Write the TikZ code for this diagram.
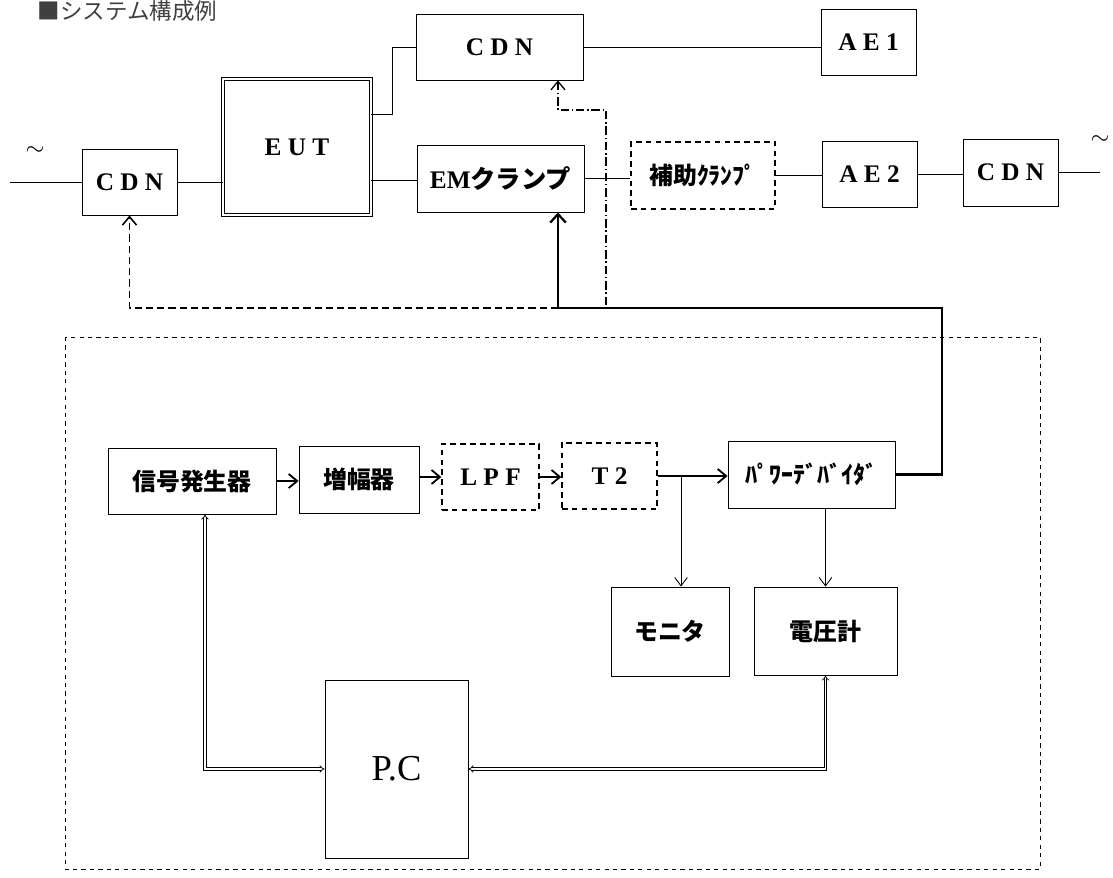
\documentclass[tikz,border=0pt]{standalone}
\usepackage{fontspec}
\setmainfont{Liberation Serif}
\newfontfamily\jp{Noto Sans CJK JP}
\usetikzlibrary{arrows.meta, positioning}

\begin{document}
\begin{tikzpicture}[x=0.025cm, y=-0.025cm,
  box/.style={draw, line width=0.6pt, inner sep=0pt, font=\bfseries\fontsize{18}{21}\selectfont},
  dbox/.style={box, dash pattern=on 4pt off 3pt, line width=0.9pt},
  jtext/.style={font=\jp\bfseries\fontsize{17}{20}\selectfont},
  wire/.style={line width=0.6pt},
  feed/.style={line width=1.6pt, -{Straight Barb[length=6pt,width=11pt]}},
  flow/.style={line width=1.3pt, -{Straight Barb[length=6pt,width=10pt]}},
  tap/.style={line width=0.6pt, -{Straight Barb[length=6pt,width=9pt]}},
  link/.style={double, double distance=1.3pt, line width=0.5pt, {Implies}-{Implies}}]
  \useasboundingbox (0,0) rectangle (1113,877);

  \node[anchor=west, font=\jp\fontsize{16}{18}\selectfont, text=black!75] (title) at (33,11) {■システム構成例};

  % upper row
  \node[font=\fontsize{19}{21}\selectfont] (tilL) at (35,151) {$\sim$};
  \node[font=\fontsize{19}{21}\selectfont] (tilR) at (1100,140) {$\sim$};
  \coordinate (inL) at (10,182);
  \coordinate (outR) at (1100,172.5);
  \node[box, minimum width=2.375cm, minimum height=1.65cm] (cdnL) at (129.5,182) {C D N};
  \node[box, double, double distance=2pt, minimum width=3.7cm, minimum height=3.4cm] (eut) at (297,147) {E U T};
  \node[box, minimum width=4.175cm, minimum height=1.65cm] (cdnT) at (499.5,47) {C D N};
  \node[box, minimum width=4.175cm, minimum height=1.675cm] (emc) at (500.5,178.5) {EM{\jp クランプ}};
  \node[box, minimum width=2.375cm, minimum height=1.65cm] (ae1) at (868.5,42) {A E 1};
  \node[dbox, jtext, minimum width=3.6cm, minimum height=1.675cm] (hojo) at (703,175.5) {補助ｸﾗﾝﾌﾟ};
  \node[box, minimum width=2.375cm, minimum height=1.65cm] (ae2) at (869.5,174) {A E 2};
  \node[box, minimum width=2.375cm, minimum height=1.675cm] (cdnR) at (1010.5,172.5) {C D N};

  \draw[wire] (inL) -- (cdnL.west);
  \draw[wire] (cdnL.east) -- (cdnL.east -| eut.west);
  \draw[wire] (eut.east |- 0,114) -- (392,114) |- (cdnT.west);
  \draw[wire] (eut.east |- 0,180) -- (emc.west |- 0,180);
  \draw[wire] (cdnT.east) -- (cdnT.east -| ae1.west);
  \draw[wire] (emc.east) -- (emc.east -| hojo.west);
  \draw[wire] (hojo.east) -- (hojo.east -| ae2.west);
  \draw[wire] (ae2.east) -- (ae2.east -| cdnR.west);
  \draw[wire] (cdnR.east) -- (outR);

  % measuring set
  \draw[line width=0.5pt, dash pattern=on 3pt off 3pt] (65,337) rectangle (1040,869);
  \node[box, jtext, minimum width=4.2cm, minimum height=1.65cm] (sg) at (192,481) {信号発生器};
  \node[box, jtext, minimum width=3cm, minimum height=1.675cm] (amp) at (359,479.5) {増幅器};
  \node[dbox, minimum width=2.425cm, minimum height=1.65cm] (lpf) at (490.5,477) {L P F};
  \node[dbox, minimum width=2.375cm, minimum height=1.65cm] (t2) at (609.5,476) {T 2};
  \node[box, jtext, minimum width=4.175cm, minimum height=1.675cm] (pd) at (811.5,474.5) {ﾊﾟﾜｰﾃﾞﾊﾞｲﾀﾞ};
  \node[box, jtext, minimum width=2.95cm, minimum height=2.225cm] (mon) at (670,631.5) {モニタ};
  \node[box, jtext, minimum width=3.575cm, minimum height=2.2cm] (volt) at (825.5,631) {電圧計};
  \node[box, font=\fontsize{26}{28}\selectfont, minimum width=3.575cm, minimum height=4.45cm] (pc) at (396.5,769) {P.C};

  \draw[flow] (sg.east) -- (sg.east -| amp.west);
  \draw[flow] (amp.east |- lpf) -- (lpf.west);
  \draw[flow] (lpf.east) -- (lpf.east -| t2.west);
  \draw[flow] (t2.east) -- (t2.east -| pd.west);
  \coordinate (br) at (681,476);
  \draw[tap] (br) -- (br |- mon.north);
  \draw[tap] (volt.north |- pd.south) -- (volt.north);
  \draw[link] (sg.south -| 205,0) |- (pc.west);
  \draw[link] (pc.east) -| (volt.south);

  % feedback to the injection devices
  \coordinate (jn) at (558,308);
  \coordinate (tr) at (942,308);
  \coordinate (dd) at (606,305);
  \draw[feed] (pd.east) -| (tr) -- (jn) -- (jn |- emc.south);
  \draw[line width=1.1pt, dash pattern=on 5pt off 3pt, -{Straight Barb[length=6pt,width=10pt]}] (jn) -| (cdnL.south);
  \draw[line width=0.9pt, dash pattern=on 6pt off 2pt on 1pt off 2pt, -{Straight Barb[length=6pt,width=10pt]}] (dd) |- (jn |- 0,110) -- (jn |- cdnT.south);
\end{tikzpicture}
\end{document}
